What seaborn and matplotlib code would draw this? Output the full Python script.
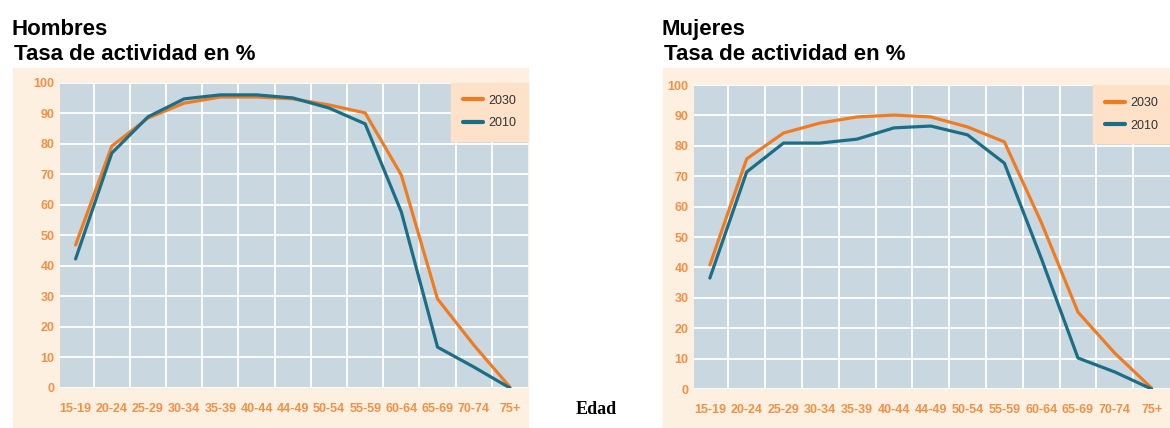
import numpy as np
import pandas as pd
import seaborn as sns
import matplotlib.pyplot as plt
from matplotlib.patches import Rectangle

# --- DATA ---
EDADES = ["15-19", "20-24", "25-29", "30-34", "35-39", "40-44", "44-49",
          "50-54", "55-59", "60-64", "65-69", "70-74", "75+"]
Y_TICKS = [0, 10, 20, 30, 40, 50, 60, 70, 80, 90, 100]

HOMBRES_2030 = [46.9, 79.3, 88.5, 93.4, 95.4, 95.4, 94.8, 92.8, 90.2, 69.8, 29.2, 14.1, 0.3]
HOMBRES_2010 = [42.3, 77.0, 88.9, 94.8, 96.1, 96.1, 95.1, 91.8, 86.6, 57.7, 13.4, 6.9, 0.0]
MUJERES_2030 = [40.8, 75.7, 84.2, 87.5, 89.5, 90.1, 89.5, 86.2, 81.3, 54.9, 25.3, 11.8, 0.3]
MUJERES_2010 = [36.5, 71.4, 80.9, 80.9, 82.2, 85.9, 86.5, 83.6, 74.3, 43.1, 10.2, 5.6, 0.0]

# --- STYLE ---
ORANGE = "#f07c22"
TEAL = "#1b6e85"
TICK_COLOR = "#f39046"
PLOT_BG = "#c9d7e0"
PANEL_BG = "#fdf0e0"
LEGEND_BG = "#fde1c9"
PALETTE = {"2030": ORANGE, "2010": TEAL}

sns.set_theme(style="white")
plt.rcParams["font.family"] = ["Liberation Sans", "DejaVu Sans"]


def make_frame(v2030, v2010):
    idx = np.arange(len(EDADES))
    return pd.concat([
        pd.DataFrame({"x": idx, "tasa": v2030, "año": "2030"}),
        pd.DataFrame({"x": idx, "tasa": v2010, "año": "2010"}),
    ], ignore_index=True)


def draw_panel(fig, rect, bg_rect, title, v2030, v2010):
    # peach background behind the panel
    fig.patches.append(Rectangle(bg_rect[:2], bg_rect[2], bg_rect[3],
                                 transform=fig.transFigure, color=PANEL_BG, zorder=-10))
    ax = fig.add_axes(rect)
    ax.set_facecolor(PLOT_BG)
    df = make_frame(v2030, v2010)
    sns.lineplot(data=df, x="x", y="tasa", hue="año", hue_order=["2030", "2010"],
                 palette=PALETTE, linewidth=2.3, ax=ax, zorder=3)

    n = len(EDADES)
    ax.set_xlim(-0.43, n - 0.5)
    ax.set_ylim(0, 100)
    ax.set_xticks(np.arange(n))
    ax.set_xticklabels(EDADES)
    ax.set_xticks(np.arange(n - 1) + 0.5, minor=True)
    ax.set_yticks(Y_TICKS)
    ax.set_yticklabels([str(t) for t in Y_TICKS])
    ax.set_axisbelow(True)
    ax.grid(which="major", axis="y", color="white", linewidth=1.3)
    ax.grid(which="minor", axis="x", color="white", linewidth=1.3)
    ax.grid(which="major", axis="x", visible=False)
    for s in ax.spines.values():
        s.set_visible(False)
    ax.tick_params(axis="both", which="both", length=0)
    ax.tick_params(axis="x", pad=11)
    ax.tick_params(axis="y", pad=4)
    for lab in ax.get_xticklabels() + ax.get_yticklabels():
        lab.set_color(TICK_COLOR)
        lab.set_fontweight("bold")
        lab.set_fontsize(9)
    ax.set_xlabel("")
    ax.set_ylabel("")

    leg = ax.legend(loc="upper right", borderaxespad=0, frameon=True, fancybox=False,
                    facecolor=LEGEND_BG, edgecolor=LEGEND_BG, framealpha=1,
                    fontsize=9, handlelength=1.6, handletextpad=0.45,
                    borderpad=0.95, labelspacing=0.85)
    for t in leg.get_texts():
        t.set_color("#333333")
    for h in leg.get_lines():
        h.set_linewidth(3)

    x0 = bg_rect[0] - 0.001
    fig.text(x0, 0.918, title, fontsize=16, fontweight="bold", ha="left", va="baseline",
             color="black")
    fig.text(x0 + 0.002, 0.860, "Tasa de actividad en %", fontsize=16, fontweight="bold",
             ha="left", va="baseline", color="black")
    return ax


fig = plt.figure(figsize=(11.7, 4.28), dpi=100)

draw_panel(fig, [0.0513, 0.0935, 0.40, 0.7126], [0.0111, 0.0, 0.44, 0.841],
           "Hombres", HOMBRES_2030, HOMBRES_2010)
draw_panel(fig, [0.5932, 0.0911, 0.4068, 0.7103], [0.5667, 0.0, 0.4333, 0.841],
           "Mujeres", MUJERES_2030, MUJERES_2010)

fig.text(0.510, 0.044, "Edad", fontsize=13, fontweight="bold", ha="center", va="center",
         color="black", family=["Liberation Serif", "DejaVu Serif"])

fig.savefig("out.png", dpi=100)
